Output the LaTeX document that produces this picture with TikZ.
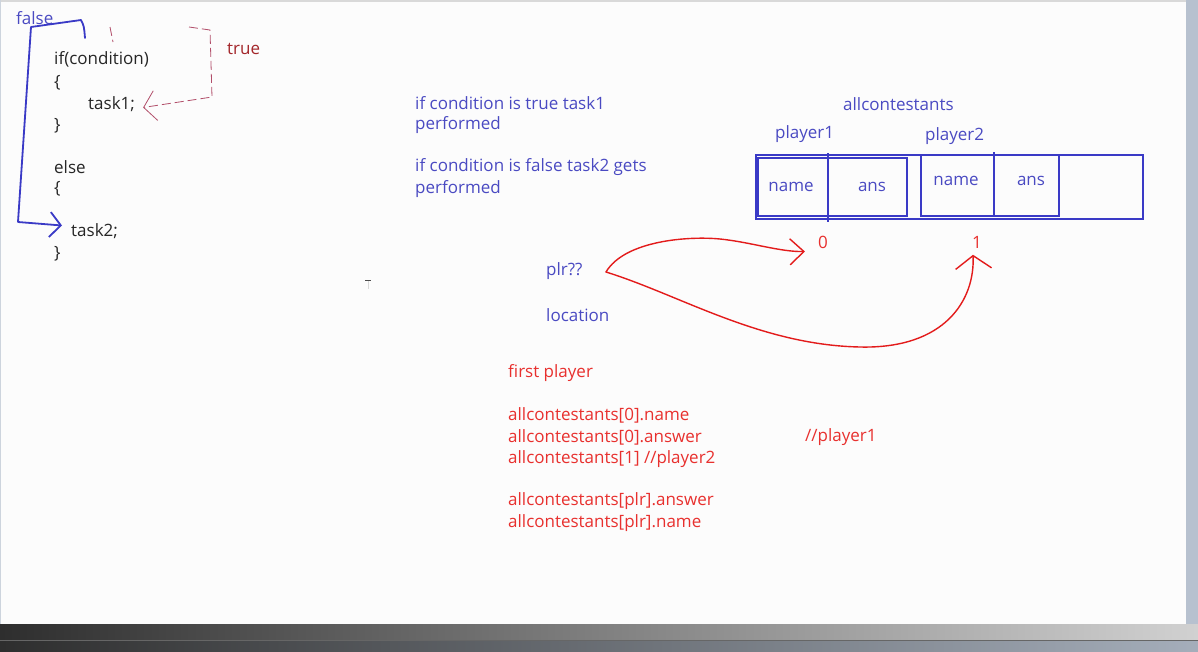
\documentclass[tikz,border=0pt]{standalone}
\usepackage{fontspec}
\setmainfont{Open Sans}
\usetikzlibrary{arrows.meta,calc}
\definecolor{inkblue}{HTML}{4A4AC2}
\definecolor{boxblue}{HTML}{3A3AC6}
\definecolor{inkred}{HTML}{E8302E}
\definecolor{truered}{HTML}{A3262A}
\definecolor{penred}{HTML}{E31B1B}
\definecolor{dashred}{HTML}{B24E6A}
\definecolor{codegray}{HTML}{262626}
\definecolor{pagebg}{HTML}{FCFCFC}
\definecolor{frameblue}{HTML}{B7C1CF}

\begin{document}
\begin{tikzpicture}[
  x=1pt, y=-1pt,
  font=\fontsize{17}{20}\selectfont,
  txt/.style={anchor=west, inner sep=0pt, yshift=-1.5pt},
  code/.style={txt, text=codegray},
  note/.style={txt, text=inkblue},
  redtxt/.style={txt, text=inkred},
  cell/.style={draw=boxblue, line width=2pt},
  bluepen/.style={draw=boxblue, line width=1.8pt, line cap=round, line join=round},
  redpen/.style={draw=penred, line width=1.4pt, line cap=round, line join=round},
  truedash/.style={draw=dashred, line width=0.8pt, dash pattern=on 9pt off 4pt},
]
\useasboundingbox (0,0) rectangle (1198,651);

% screen frame
\fill[pagebg] (0,0) rectangle (1198,651);
\fill[gray!30] (0,0) rectangle (1198,1.5);
\fill[frameblue!70] (0,0) rectangle (1.2,624);
\fill[frameblue] (1186,0) rectangle (1198,624);
\shade[left color=black!82, right color=black!18] (0,624) rectangle (1198,640);
\shade[left color=black!82, right color=frameblue!90!black] (0,640) rectangle (1198,651);
\draw[black!60] (0,640) -- (1198,640);

% if / else code
\node[code] (ifc)   at (54,58)  {if(condition)};
\node[code] (open1) at (54,81)  {\{};
\node[code] (task1) at (88,103) {task1;};
\node[code] (shut1) at (54,124) {\}};
\node[code] (els)   at (54,166) {else};
\node[code] (open2) at (54,187) {\{};
\node[code] (task2) at (71,230) {task2;};
\node[code] (shut2) at (54,252) {\}};

\node[txt, text=inkblue] (false) at (16,17) {false};
\node[txt, text=truered] (true)  at (227,47) {true};

\coordinate (fstart) at (85,38);
\coordinate (tstart) at (189,27);
\draw[bluepen, -{Straight Barb[length=11pt,width=25pt,line width=1.8pt]}]
  (fstart) .. controls (84,26) .. (81,20) -- (31,27) -- (18,222)
  -- ($(task2.west)+(-9,-6)$);
\draw[truedash] (110,27) -- (113,42);
\draw[truedash, -{Straight Barb[length=12pt,width=30pt,line width=0.8pt]}]
  (tstart) -- (210,30) -- (212,97) -- ($(task1.east)+(8,3)$);

% explanation
\node[note] (ntrue)  at (415,102) {if condition is true task1};
\node[note] (ntrue2) at (415,124) {performed};
\node[note] (nfals)  at (415,166) {if condition is false task2 gets};
\node[note] (nfals2) at (415,188) {performed};

% array of contestants
\node[note] (arr)  at (843,103) {allcontestants};
\node[note] (pl1)  at (775,133) {player1};
\node[note] (pl2)  at (925,135) {player2};

\draw[cell, line width=2.6pt] (756,155) rectangle (1143,219);
\draw[cell] (758,158) rectangle (907,216);
\draw[cell] (921,155) rectangle (1059,216);
\draw[cell] (828,153) -- (828,222);
\draw[cell] (994,152) -- (994,216);

\node[note, anchor=center] (name1) at (791,185) {name};
\node[note, anchor=center] (ans1)  at (872,185) {ans};
\node[note, anchor=center] (name2) at (956,179) {name};
\node[note, anchor=center] (ans2)  at (1031,179) {ans};

\node[redtxt, anchor=center] (idx0) at (823,241) {0};
\node[redtxt, anchor=center] (idx1) at (977,241) {1};

\node[note] (plr) at (546,270) {plr??};
\node[note] (loc) at (546,314) {location};

\coordinate (plrtip) at (606,272);
\draw[redpen, -{Straight Barb[length=14pt,width=26pt,line width=1.4pt]}]
  (plrtip) .. controls (625,240) and (690,236) .. (720,239)
  .. controls (750,242) and (780,252) .. ($(idx0.west)+(-13,9)$);
\draw[redpen, -{Straight Barb[length=13pt,width=36pt,line width=1.4pt]}]
  (plrtip) .. controls (680,295) and (760,345) .. (860,347)
  .. controls (945,349) and (975,300) .. ($(idx1.south)+(-4,6)$);

% cursor
\draw[black!70, line width=1pt] (365,280) -- (371,280);
\draw[black!15, line width=0.6pt] (368,281) -- (368,289);

% member access
\node[redtxt] (first) at (508,372) {first player};
\node[redtxt] (acc1)  at (508,414) {allcontestants[0].name};
\node[redtxt] (acc2)  at (508,436) {allcontestants[0].answer};
\node[redtxt] (acc3)  at (508,458) {allcontestants[1] //player2};
\node[redtxt] (acc4)  at (508,500) {allcontestants[plr].answer};
\node[redtxt] (acc5)  at (508,522) {allcontestants[plr].name};
\node[redtxt] (cmt1)  at (805,436) {//player1};
\end{tikzpicture}
\end{document}
